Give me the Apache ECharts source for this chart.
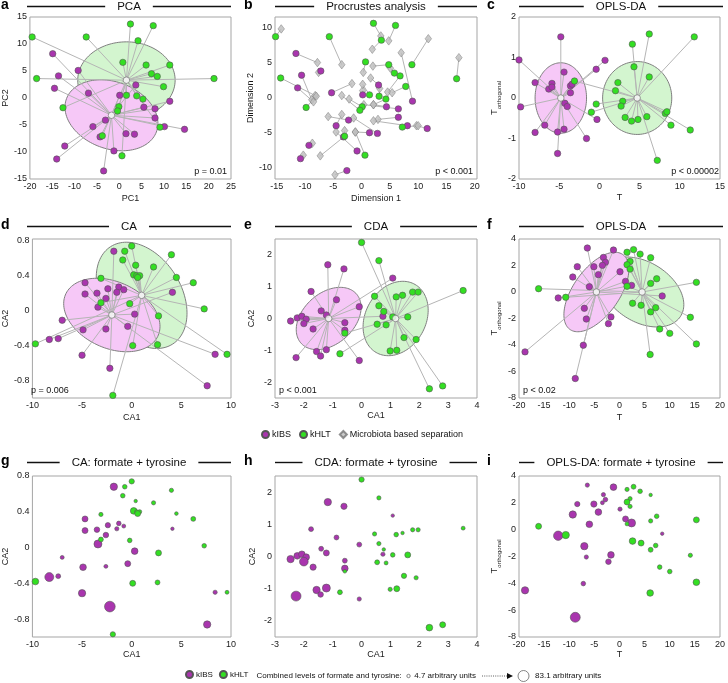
<!DOCTYPE html>
<html><head><meta charset="utf-8">
<script src="https://cdn.jsdelivr.net/npm/echarts@6.0.0/dist/echarts.min.js"></script>
<style>html,body{margin:0;padding:0;background:#fff;}#chart{width:728px;height:683px;}</style>
</head><body><div id="chart"></div>
<script>
// ================= DATA =================
// a: PCA
const pcaIBS = [[-14.9,8.2],[-9.2,5.1],[-13.6,4.1],[-14.5,1.8],[-6.9,0.9],[3.7,2.4],[0.1,0.5],[11.3,-0.6],[5.5,-1.7],[8.0,-2.0],[8.0,-3.7],[-3.1,-4.1],[-5.9,-5.3],[10.1,-5.3],[14.6,-5.8],[1.5,-6.6],[3.4,-6.7],[-4.3,-7.2],[-12.2,-8.9],[-1.2,-9.8],[-14.0,-11.3],[-3.5,-13.5]];
const pcaHLT = [[-19.5,11.3],[-18.5,3.6],[-7.4,11.3],[2.5,13.7],[7.6,13.4],[4.2,10.6],[0.8,6.6],[6.0,6.1],[11.3,6.1],[7.2,4.5],[8.5,4.0],[9.9,2.1],[21.2,3.6],[1.6,0.5],[3.9,0.4],[5.3,-0.2],[-12.6,-1.8],[-0.1,-1.6],[-0.4,-2.4],[9.1,-5.4],[0.6,-10.7],[-3.8,-7.0]];
// ellipse: [centerX, centerY, u_x, u_y, v_x, v_y] (conjugate semi-axes, data units)
const ellPcaIBS = [-1.75,-3.2,10.4,-1.5,0,6.4];
const ellPcaHLT = [1.6,3.3,10.9,0,0,7.1];

// b: Procrustes analysis (metabolite-based circles and matching microbiota-based diamonds)
const procIBS = [[-11.6,6.3],[-10.6,3.2],[-11.3,1.4],[-7.2,3.8],[-5.3,0.7],[3.0,1.8],[0.2,0.4],[9.0,-0.5],[4.4,-1.3],[6.5,-1.6],[6.5,-2.8],[-2.3,-3.2],[-4.5,-4.0],[8.1,-4.0],[11.6,-4.4],[1.4,-5.0],[2.8,-5.1],[-3.2,-5.6],[-9.3,-6.8],[-0.8,-7.6],[-10.8,-8.7],[-2.6,-10.4]];
const procIBSmicro = [[-7.8,5.0],[-8.8,-0.3],[-8.5,-0.6],[-7.6,3.6],[-1.7,2.0],[1.6,2.8],[0.2,1.0],[7.0,6.4],[2.1,-1.0],[0.4,-1.0],[2.9,-3.1],[-5.9,-2.7],[-3.5,-2.4],[2.1,-3.3],[9.7,-4.0],[-1.1,-4.9],[-1.4,-2.9],[-3.0,-4.7],[-8.7,-6.5],[-4.5,-4.9],[-10.3,-8.2],[-4.7,-11.0]];
const procHLT = [[-15.2,8.7],[-14.3,2.8],[-5.7,8.7],[2.1,10.6],[6.0,10.3],[3.5,8.2],[0.7,5.1],[4.8,4.7],[8.9,4.7],[5.8,3.5],[6.8,3.1],[7.8,1.6],[16.8,2.7],[1.4,0.4],[3.1,0.2],[4.3,-0.2],[-9.8,-1.4],[0.1,-1.3],[-0.3,-1.8],[7.2,-4.2],[0.6,-8.2],[-3.0,-5.5]];
const procHLTmicro = [[-14.2,9.8],[-8.2,0.3],[-3.5,4.7],[3.4,8.8],[4.8,8.1],[1.9,6.9],[0.3,3.6],[2.0,4.5],[11.8,8.4],[5.1,4.2],[4.6,0.8],[5.4,0.7],[17.2,5.7],[0.2,1.9],[3.2,1.3],[2.1,-1.0],[-8.0,0.2],[-2.2,-0.2],[-3.5,0.3],[10.0,-4.0],[-1.1,-4.9],[-7.3,-8.3]];

// c: OPLS-DA
const oplsIBS = [[-4.8,1.51],[-10.0,0.94],[0.7,0.93],[-0.4,0.71],[-4.4,0.64],[-8.0,0.38],[-5.9,0.36],[-6.3,0.22],[-5.9,0.27],[-3.6,0.30],[-3.4,0.34],[-3.6,0.13],[-9.8,-0.22],[-4.3,-0.13],[-4.0,-0.21],[-0.3,-0.53],[-6.8,-0.67],[-4.4,-0.77],[-8.0,-0.85],[-5.2,-0.84],[-1.6,-1.0],[-5.2,-1.37]];
const oplsHLT = [[-3.1,0.42],[-0.4,-0.15],[-1.0,-0.35],[4.1,1.33],[6.2,1.58],[11.8,1.51],[4.3,0.77],[6.2,0.52],[2.3,0.38],[2.0,0.18],[2.9,-0.08],[2.7,-0.20],[3.2,-0.48],[4.0,-0.57],[4.8,-0.53],[5.9,-0.46],[8.2,-0.38],[8.4,-0.34],[8.9,-0.67],[11.3,-0.79],[7.2,-1.54]];
const ellOplsIBS = [-4.8,0,3.2,0,0,0.87];
const ellOplsHLT = [4.7,0,4.3,0,0,0.9];

// d / g: CA
const caIBS = [[-1.8,0.68],[-4.7,0.32],[-4.7,0.19],[-3.5,0.20],[-2.4,0.25],[-1.3,0.27],[-0.8,0.24],[-1.5,0.21],[-2.6,0.14],[-3.4,0.04],[4.1,0.21],[-7.0,-0.11],[0.3,-0.04],[-2.6,-0.21],[-4.9,-0.22],[-0.4,-0.18],[-8.3,-0.33],[-7.4,-0.32],[-5.0,-0.51],[-2.2,-0.66],[8.4,-0.50],[7.6,-0.86]];
const caHLT = [[0.0,0.74],[-0.7,0.68],[-0.9,0.58],[0.4,0.52],[4.0,0.64],[2.2,0.50],[-3.1,0.37],[0.2,0.41],[0.5,0.40],[0.8,0.40],[0.6,0.38],[4.5,0.38],[6.2,0.32],[-3.1,0.09],[-0.2,0.08],[7.3,0.02],[2.7,-0.06],[-9.7,-0.38],[0.1,-0.40],[2.6,-0.39],[9.6,-0.50],[-1.9,-0.97]];
const ellCaIBS = [-2.0,-0.05,4.85,-0.13,0,0.40];
const ellCaHLT = [1.0,0.175,4.5,-0.1,-0.8,0.6];
// combined formate + tyrosine levels (arbitrary units) for g
const caIBSlevel = [45,31,31,27,24,17,10,13,27,52,5,10,38,10,38,31,62,20,45,80,13,45];
const caHLTlevel = [24,17,17,5,13,13,13,38,13,13,31,7,20,20,17,17,31,38,31,20,10,24];

// e / h: CDA
const cdaIBS = [[-1.17,1.69],[-0.61,1.56],[-1.75,0.85],[-0.87,0.59],[1.08,1.27],[-0.08,0.37],[-1.40,0.24],[-1.22,0.11],[-2.46,-0.08],[-2.23,0.02],[-2.07,0.07],[-1.92,-0.02],[-2.0,-0.16],[-1.68,-0.33],[-0.58,-0.13],[-0.58,-0.37],[0.74,0.07],[-1.56,-1.04],[-1.22,-0.98],[-1.42,-1.18],[-2.27,-1.23],[-0.08,-1.32]];
const cdaHLT = [[0.0,2.39],[0.6,1.82],[0.45,0.70],[1.2,0.68],[1.42,0.73],[1.77,0.83],[1.96,0.83],[3.52,0.88],[0.6,0.40],[0.77,0.22],[1.08,0.05],[1.6,0.05],[0.54,-0.18],[0.85,-0.2],[-0.58,-0.46],[1.47,-0.60],[1.89,-0.66],[-0.75,-1.11],[0.99,-1.02],[1.22,-1.0],[2.35,-2.21],[2.81,-2.12]];
const ellCdaIBS = [-1.14,0,1.05,0,0.40,0.98];
const ellCdaHLT = [1.18,0,1.1,0,0.25,1.17];
const cdaIBSlevel = [45,34,20,20,5,20,20,31,45,38,38,38,59,34,20,38,13,45,52,27,72,13];
const cdaHLTlevel = [24,13,13,17,5,13,13,10,13,5,17,31,20,10,7,24,13,20,13,31,38,31];

// f / i: OPLS-DA
const oplsfIBS = [[-6.4,3.32],[-1.2,3.17],[-3.2,2.61],[-2.8,2.24],[-8.4,1.91],[-5.1,1.91],[-3.4,2.01],[-4.2,1.31],[-9.3,1.13],[0.1,1.53],[1.2,0.80],[2.4,0.50],[-6.0,0.40],[-12.2,-0.45],[8.5,-0.30],[-7.0,-1.23],[-6.6,-2.04],[-1.7,-1.88],[-2.2,-2.39],[-7.2,-4.02],[-18.8,-4.52],[-8.8,-6.53]];
const oplsfHLT = [[1.5,3.0],[2.8,3.2],[4.1,2.86],[6.2,2.59],[2.1,2.31],[1.5,2.06],[2.1,1.73],[7.4,1.0],[6.2,0.65],[1.5,0.43],[15.3,0.73],[-16.1,0.25],[-10.7,-0.40],[2.6,-0.85],[4.3,-1.0],[7.2,-1.18],[6.2,-1.5],[14.1,-1.91],[8.0,-2.79],[10.0,-3.12],[15.3,-3.92],[6.1,-4.72]];
const ellOplsfIBS = [-4.6,0,5.3,0,3.7,3.0];
const ellOplsfHLT = [4.5,0,7.74,0,-3.0,2.64];
const oplsfIBSlevel = [13,38,13,17,24,34,10,38,45,13,31,52,38,66,5,45,13,38,27,17,45,72];
const oplsfHLTlevel = [13,20,17,5,13,31,13,17,13,10,31,31,45,38,31,17,20,13,17,17,38,38];

// tick labels
const ticksPCAx = [-20,-15,-10,-5,0,5,10,15,20,25], ticksPCAy = [-15,-10,-5,0,5,10,15];
const ticksProcX = [-15,-10,-5,0,5,10,15,20], ticksProcY = [-10,-5,0,5,10];
const ticksOplsCx = [-10,-5,0,5,10,15], ticksOplsCy = [-2,-1,0,1,2];
const ticksCAx = [-10,-5,0,5,10], ticksCAy = [-0.8,-0.4,0,0.4,0.8];
const ticksCDAx = [-3,-2,-1,0,1,2,3,4], ticksCDAy = [-2,-1,0,1,2];
const ticksOplsFx = [-20,-15,-10,-5,0,5,10,15,20], ticksOplsFy = [-8,-6,-4,-2,0,2,4];
const sizeLegendLevels = [4.7, 83.1];

// ================= STYLE / LAYOUT =================
const F = '"Liberation Sans", Arial, Helvetica, sans-serif';
const PURPLE = '#a935ae', GREEN = '#33df22', DIAM = '#bdbdbd';
const PINKFILL = '#f6c8f7', GREENFILL = '#d3f5cf';
const cols = [{l:27,w:204},{l:275,w:202},{l:519,w:204}];
const rows = [{t:17,h:162,ty:6.5},{t:239,h:159,ty:226.5},{t:476,h:161,ty:462.5}];
const letterX = [1, 244, 487];
const TORTH = '{t|T}{s|orthogonal}';

const panels = [
 {L:'a',title:'PCA',xr:[-20,25],yr:[-15,15],xt:ticksPCAx,yt:ticksPCAy,xn:'PC1',yn:'PC2',xg:15,yg:17,p:'p = 0.01',ps:'r',kind:'star',I:pcaIBS,H:pcaHLT,eI:ellPcaIBS,eH:ellPcaHLT},
 {L:'b',title:'Procrustes analysis',xr:[-15.3,20.4],yr:[-11.6,11.5],xt:ticksProcX,yt:ticksProcY,xn:'Dimension 1',yn:'Dimension 2',xg:15,yg:17,p:'p < 0.001',ps:'r',kind:'proc'},
 {L:'c',title:'OPLS-DA',xr:[-10,15],yr:[-2,2],xt:ticksOplsCx,yt:ticksOplsCy,xn:'T',yn:TORTH,xg:14,yg:17,p:'p < 0.00002',ps:'r',kind:'star',I:oplsIBS,H:oplsHLT,eI:ellOplsIBS,eH:ellOplsHLT},
 {L:'d',title:'CA',xr:[-10,10],yr:[-1.0,0.82],xt:ticksCAx,yt:ticksCAy,xn:'CA1',yn:'CA2',xg:15,yg:17,p:'p = 0.006',ps:'l',kind:'star',I:caIBS,H:caHLT,eI:ellCaIBS,eH:ellCaHLT},
 {L:'e',title:'CDA',xr:[-3,4],yr:[-2.5,2.5],xt:ticksCDAx,yt:ticksCDAy,xn:'CA1',yn:'CA2',xg:13,yg:19,p:'p < 0.001',ps:'l',kind:'star',I:cdaIBS,H:cdaHLT,eI:ellCdaIBS,eH:ellCdaHLT},
 {L:'f',title:'OPLS-DA',xr:[-20,20],yr:[-8,4],xt:ticksOplsFx,yt:ticksOplsFy,xn:'T',yn:TORTH,xg:15,yg:17,p:'p < 0.02',ps:'l',kind:'star',I:oplsfIBS,H:oplsfHLT,eI:ellOplsfIBS,eH:ellOplsfHLT},
 {L:'g',title:'CA: formate + tyrosine',xr:[-10,10],yr:[-1.0,0.8],xt:ticksCAx,yt:ticksCAy,xn:'CA1',yn:'CA2',xg:13,yg:17,kind:'size',I:caIBS,H:caHLT,lI:caIBSlevel,lH:caHLTlevel},
 {L:'h',title:'CDA: formate + tyrosine',xr:[-3,4],yr:[-2.5,2.5],xt:ticksCDAx,yt:ticksCDAy,xn:'CA1',yn:'CA2',xg:13,yg:18,kind:'size',I:cdaIBS,H:cdaHLT,lI:cdaIBSlevel,lH:cdaHLTlevel},
 {L:'i',title:'OPLS-DA: formate + tyrosine',xr:[-20,20],yr:[-8,4],xt:ticksOplsFx,yt:ticksOplsFy,xn:'T',yn:TORTH,xg:11,yg:17,kind:'size',I:oplsfIBS,H:oplsfHLT,lI:oplsfIBSlevel,lH:oplsfHLTlevel}
];

const mctx = document.createElement('canvas').getContext('2d');
function tw(text, size, weight){ mctx.font = (weight||'normal')+' '+size+'px '+F; return mctx.measureText(text).width; }
function levelToSize(L){ return 3.4 + (L - 4.7) / 78.4 * 7.6; }
const fmt = v => String(Math.round(v*100)/100);

const grids = [], xAxes = [], yAxes = [], series = [], gfx = [];

function addEllipse(gi, e, fill){
  series.push({type:'custom', xAxisIndex:gi, yAxisIndex:gi, silent:true, z:1, data:[e], encode:{x:0,y:1},
    renderItem:(params, api)=>{
      const pts=[];
      for(let k=0;k<=120;k++){ const t=k/120*2*Math.PI;
        pts.push(api.coord([e[0]+e[2]*Math.cos(t)+e[4]*Math.sin(t), e[1]+e[3]*Math.cos(t)+e[5]*Math.sin(t)])); }
      return {type:'polygon', shape:{points:pts}, style:{fill:fill, stroke:'#7f7f7f', lineWidth:1}};
    }});
}
function addStar(gi, e, pts){
  series.push({type:'custom', xAxisIndex:gi, yAxisIndex:gi, silent:true, z:2, data:pts, encode:{x:0,y:1},
    renderItem:(params, api)=>{
      const a=api.coord([e[0],e[1]]), b=api.coord([api.value(0),api.value(1)]);
      return {type:'line', shape:{x1:a[0],y1:a[1],x2:b[0],y2:b[1]}, style:{stroke:'#b5b5b5', lineWidth:1}};
    }});
}
function addLinks(gi, a, b){
  series.push({type:'custom', xAxisIndex:gi, yAxisIndex:gi, silent:true, z:2,
    data:a.map((p,i)=>[p[0],p[1],b[i][0],b[i][1]]), encode:{x:[0,2],y:[1,3]},
    renderItem:(params, api)=>{
      const p=api.coord([api.value(0),api.value(1)]), q=api.coord([api.value(2),api.value(3)]);
      return {type:'line', shape:{x1:p[0],y1:p[1],x2:q[0],y2:q[1]}, style:{stroke:'#b5b5b5', lineWidth:1}};
    }});
}
function addScatter(gi, name, pts, color, levels){
  series.push({type:'scatter', name:name, xAxisIndex:gi, yAxisIndex:gi, z:3,
    data: levels ? pts.map((p,i)=>[p[0],p[1],levels[i]]) : pts,
    symbol:'circle', symbolSize: levels ? (v)=>levelToSize(v[2]) : 6.4,
    itemStyle:{color:color, borderColor:'#555', borderWidth:0.6, opacity:1},
    emphasis:{disabled:true}});
}
function addCentroid(gi, e){
  series.push({type:'scatter', xAxisIndex:gi, yAxisIndex:gi, z:4, silent:true, data:[[e[0],e[1]]],
    symbol:'circle', symbolSize:6.5, itemStyle:{color:'#fff', borderColor:'#666', borderWidth:0.8}});
}

panels.forEach((P, gi)=>{
  const r = rows[Math.floor(gi/3)], c = cols[gi%3];
  grids.push({left:c.l, top:r.t, width:c.w, height:r.h, show:true, borderColor:'#a5a5a5', borderWidth:1, backgroundColor:'transparent', containLabel:false});
  const lbl = {fontSize:9, color:'#1a1a1a', fontFamily:F, formatter:fmt};
  xAxes.push({type:'value', gridIndex:gi, min:P.xr[0], max:P.xr[1], name:P.xn, nameLocation:'middle', nameGap:P.xg,
    nameTextStyle:{fontSize:9, color:'#1a1a1a', fontFamily:F},
    axisLine:{show:false}, axisTick:{show:false, customValues:P.xt}, splitLine:{show:false},
    axisLabel:Object.assign({customValues:P.xt, margin:3}, lbl)});
  yAxes.push({type:'value', gridIndex:gi, min:P.yr[0], max:P.yr[1], name:P.yn, nameLocation:'middle', nameGap:P.yg,
    nameTextStyle:{fontSize:9, color:'#1a1a1a', fontFamily:F,
      rich:{t:{fontSize:9.5, fontFamily:F, color:'#1a1a1a', lineHeight:15, verticalAlign:'middle'},
            s:{fontSize:6, fontFamily:F, color:'#1a1a1a', lineHeight:15, verticalAlign:'bottom'}}},
    axisLine:{show:false}, axisTick:{show:false, customValues:P.yt}, splitLine:{show:false},
    axisLabel:Object.assign({customValues:P.yt, margin:3}, lbl)});

  if (P.kind==='star'){
    addEllipse(gi, P.eH, GREENFILL);
    addEllipse(gi, P.eI, PINKFILL);
    addStar(gi, P.eH, P.H);
    addStar(gi, P.eI, P.I);
    addScatter(gi, 'kIBS', P.I, PURPLE);
    addScatter(gi, 'kHLT', P.H, GREEN);
    addCentroid(gi, P.eH);
    addCentroid(gi, P.eI);
  } else if (P.kind==='proc'){
    addLinks(gi, procIBS, procIBSmicro);
    addLinks(gi, procHLT, procHLTmicro);
    series.push({type:'scatter', name:'Microbiota based separation', xAxisIndex:gi, yAxisIndex:gi, z:3,
      data:procIBSmicro.concat(procHLTmicro), symbol:'diamond', symbolSize:[6.5,8.5],
      itemStyle:{color:DIAM, borderColor:'#777', borderWidth:0.6}, emphasis:{disabled:true}});
    addScatter(gi, 'kIBS', procIBS, PURPLE);
    addScatter(gi, 'kHLT', procHLT, GREEN);
  } else {
    addScatter(gi, 'kIBS', P.I, PURPLE, P.lI);
    addScatter(gi, 'kHLT', P.H, GREEN, P.lH);
  }

  // title with side rules
  const cx = c.l + c.w/2, ty = r.ty, w = tw(P.title, 11.5);
  gfx.push({type:'text', x:cx, y:ty, z:10, style:{text:P.title, fill:'#111', font:'11.5px '+F, align:'center', verticalAlign:'middle', textAlign:'center', textVerticalAlign:'middle'}});
  gfx.push({type:'line', z:10, shape:{x1:c.l, y1:ty, x2:cx - w/2 - 12, y2:ty}, style:{stroke:'#111', lineWidth:1.4}});
  gfx.push({type:'line', z:10, shape:{x1:cx + w/2 + 12, y1:ty, x2:c.l + c.w, y2:ty}, style:{stroke:'#111', lineWidth:1.4}});
  gfx.push({type:'text', x:letterX[gi%3], y:ty-1, z:10, style:{text:P.L, fill:'#000', font:'bold 14px '+F, align:'left', verticalAlign:'middle', textAlign:'left', textVerticalAlign:'middle'}});
  if (P.p){
    const right = P.ps==='r';
    gfx.push({type:'text', x: right ? c.l + c.w - 4 : c.l + 4, y: r.t + r.h - 7, z:10,
      style:{text:P.p, fill:'#111', font:'9px '+F, align: right?'right':'left', verticalAlign:'middle', textAlign: right?'right':'left', textVerticalAlign:'middle'}});
  }
});

// bottom size legend (after kIBS / kHLT legend entries)
const legFont = 8, legTop = 670, legLeft = 185, legY = legTop + 6;
let xx = legLeft + 2*(7+5) + tw('kIBS', legFont) + tw('kHLT', legFont) + 6 + 6;
const t1 = 'Combined levels of formate and tyrosine:';
gfx.push({type:'text', x:xx, y:legY, style:{text:t1, fill:'#111', font:legFont+'px '+F, align:'left', verticalAlign:'middle', textAlign:'left', textVerticalAlign:'middle'}});
xx += tw(t1, legFont) + 5;
const rs = levelToSize(sizeLegendLevels[0])/2, rb = levelToSize(sizeLegendLevels[1])/2;
gfx.push({type:'circle', shape:{cx:xx+rs, cy:legY, r:rs}, style:{fill:'#fff', stroke:'#666', lineWidth:0.8}});
xx += 2*rs + 4;
const t2 = sizeLegendLevels[0] + ' arbitrary units';
gfx.push({type:'text', x:xx, y:legY, style:{text:t2, fill:'#111', font:legFont+'px '+F, align:'left', verticalAlign:'middle', textAlign:'left', textVerticalAlign:'middle'}});
xx += tw(t2, legFont) + 6;
gfx.push({type:'line', shape:{x1:xx, y1:legY, x2:xx+26, y2:legY}, style:{stroke:'#333', lineWidth:0.8, lineDash:[1,1.2]}});
gfx.push({type:'polygon', shape:{points:[[xx+25,legY-3],[xx+31,legY],[xx+25,legY+3]]}, style:{fill:'#111'}});
xx += 36;
gfx.push({type:'circle', shape:{cx:xx+rb, cy:legY, r:rb}, style:{fill:'#fff', stroke:'#666', lineWidth:0.8}});
xx += 2*rb + 6;
const t3 = sizeLegendLevels[1] + ' arbitrary units';
gfx.push({type:'text', x:xx, y:legY, style:{text:t3, fill:'#111', font:legFont+'px '+F, align:'left', verticalAlign:'middle', textAlign:'left', textVerticalAlign:'middle'}});

const chart = echarts.init(document.getElementById('chart'), null, {renderer:'canvas'});
chart.setOption({
  animation:false,
  backgroundColor:'#fff',
  grid:grids, xAxis:xAxes, yAxis:yAxes, series:series,
  legend:[
    {data:['kIBS','kHLT','Microbiota based separation'], left:261, top:430, padding:0, itemWidth:7, itemHeight:7, itemGap:8,
     textStyle:{fontSize:9, color:'#111', fontFamily:F, padding:[0,0,0,-2]}, selectedMode:false},
    {data:['kIBS','kHLT'], left:legLeft, top:legTop, padding:0, itemWidth:7, itemHeight:7, itemGap:6,
     textStyle:{fontSize:legFont, color:'#111', fontFamily:F, padding:[0,0,0,-2]}, selectedMode:false}
  ],
  graphic:{elements:gfx}
});
</script></body></html>
